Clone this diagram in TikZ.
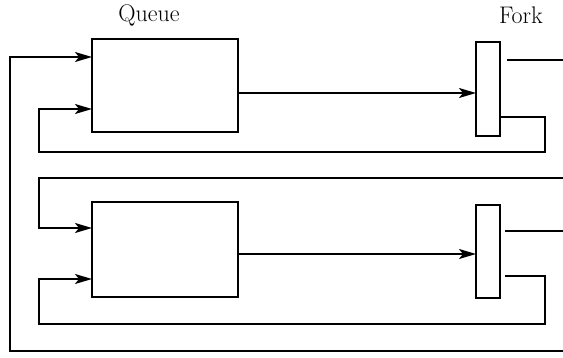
\documentclass[tikz,border=0pt]{standalone}
\usepackage{fontspec}
\usetikzlibrary{arrows.meta}
\begin{document}
\begin{tikzpicture}[x=1pt,y=-1pt,
  line width=1.9pt,
  blk/.style={draw,rectangle,inner sep=0pt,outer sep=0pt},
  arr/.style={-{Stealth[length=17pt,width=10pt,inset=4pt]}},
  lbl/.style={font=\fontsize{24}{27}\selectfont,inner sep=0pt}]
\useasboundingbox (0,0) rectangle (563,358);
% blocks
\node[blk,minimum width=146pt,minimum height=93pt] (q1) at (165,85.5) {};
\node[blk,minimum width=24pt,minimum height=94pt] (f1) at (488,89) {};
\node[blk,minimum width=146pt,minimum height=95pt] (q2) at (165,249.5) {};
\node[blk,minimum width=24pt,minimum height=93pt] (f2) at (488,251.5) {};
% labels
\node[lbl] (lq) at (149,15) {Queue};
\node[lbl] (lf) at (521,15) {Fork};
% helper coordinates
\coordinate (oR) at (563,351);
\coordinate (oL) at (10,351);
\coordinate (a1) at (0,57);
\coordinate (a2) at (0,109);
\coordinate (a3) at (0,93);
\coordinate (t1s) at (507,60);
\coordinate (t1e) at (563,60);
\coordinate (r1) at (545,117);
\coordinate (b1) at (39,152);
\coordinate (mR) at (563,178);
\coordinate (mL) at (39,178);
\coordinate (a4) at (0,228);
\coordinate (a5) at (0,254);
\coordinate (t2s) at (505,231);
\coordinate (t2e) at (563,231);
\coordinate (s2) at (505,276);
\coordinate (r2) at (545,276);
\coordinate (b2) at (39,324);
\coordinate (a6) at (0,279);
% outer loop into top queue
\draw[arr] (oR) -- (oL) -- (oL |- a1) -- (q1.west |- a1);
% top queue to top fork
\draw[arr] (q1.east |- a3) -- (f1.west |- a3);
% top fork outputs
\draw (t1s) -- (t1e);
\draw[arr] (f1.east |- r1) -- (r1) -- (r1 |- b1) -- (b1) -- (b1 |- a2) -- (q1.west |- a2);
% middle line into bottom queue
\draw[arr] (mR) -- (mL) -- (mL |- a4) -- (q2.west |- a4);
% bottom queue to bottom fork
\draw[arr] (q2.east |- a5) -- (f2.west |- a5);
% bottom fork outputs
\draw (t2s) -- (t2e);
\draw[arr] (s2) -- (r2) -- (r2 |- b2) -- (b2) -- (b2 |- a6) -- (q2.west |- a6);
\end{tikzpicture}
\end{document}
